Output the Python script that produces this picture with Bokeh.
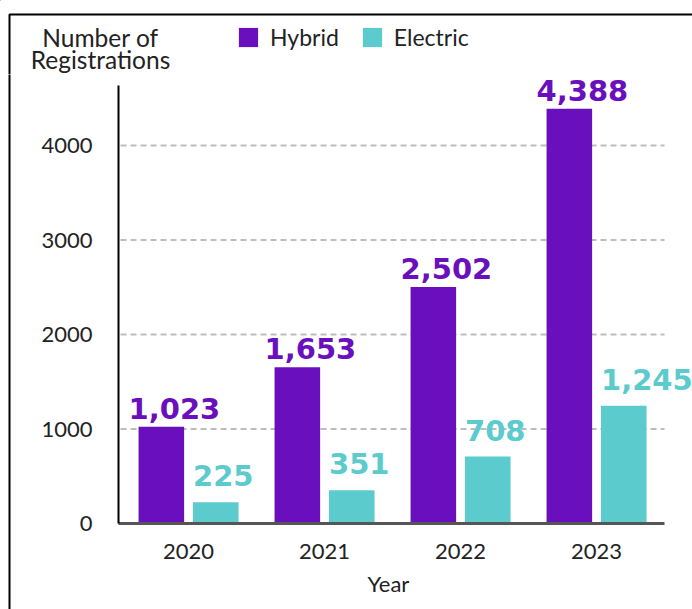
from bokeh.plotting import figure
from bokeh.layouts import column, row
from bokeh.models import (ColumnDataSource, Range1d, FixedTicker, LabelSet, Plot,
                          Legend, LegendItem, Label, BoxAnnotation, Title)
from bokeh.transform import dodge
from bokeh.core.properties import value
from bokeh.embed import file_html
from bokeh.resources import INLINE

# ---- data ----
years = ["2020", "2021", "2022", "2023"]
hybrid = [1023, 1653, 2502, 4388]
electric = [225, 351, 708, 1245]
series_names = ["Hybrid", "Electric"]
y_ticks = [0, 1000, 2000, 3000, 4000]
y_title = "Number of\nRegistrations"
x_title = "Year"

colors = ["#6A0FBD", "#5BCBCE"]
FONT = "Lato"
VFONT = "DejaVu Sans"
TXT = "#222222"

xc = [i + 0.5 for i in range(len(years))]
source = ColumnDataSource(dict(
    xc=xc, year=years, hybrid=hybrid, electric=electric,
    hybrid_label=[f"{v:,}" for v in hybrid],
    electric_label=[f"{v:,}" for v in electric],
))
grid_src = ColumnDataSource(dict(
    y=y_ticks[1:], x0=[0] * (len(y_ticks) - 1), x1=[len(years)] * (len(y_ticks) - 1)))

TOTAL_W, TOTAL_H = 692, 609
STRIP_W = 11
W = TOTAL_W - STRIP_W
PX = 136.0          # pixels per category
BW = 0.335          # bar width
OFF = 0.2           # dodge
HEAD_H = 74
MAIN_H = TOTAL_H - HEAD_H
BOTTOM = 86
FRAME_H = MAIN_H - BOTTOM
Y_END = FRAME_H / 94.5 * 1000
CAN_UNALIGN = "frame_align" in Plot.properties()


def frame_line(fig, top):
    fig.add_layout(BoxAnnotation(left=9, right=5000, top=top, bottom=-1000,
                                 left_units="screen", right_units="screen",
                                 top_units="screen", bottom_units="screen",
                                 fill_alpha=0, line_color="black", line_alpha=1.0,
                                 line_width=2))


def blank(width, height, xr=(0, 1), yr=(0, 1)):
    f = figure(width=width, height=height, x_range=Range1d(*xr), y_range=Range1d(*yr),
               x_axis_type=None, y_axis_type=None, output_backend="svg",
               toolbar_location=None, min_border=0)
    f.outline_line_color = None
    if CAN_UNALIGN:
        f.frame_align = False
    return f


# ---------------- main chart ----------------
main = figure(width=W, height=MAIN_H,
              x_range=Range1d(-0.015, -0.015 + (W - 107) / PX), y_range=Range1d(0, Y_END),
              output_backend="svg", toolbar_location=None,
              min_border_left=107, min_border_right=0, min_border_top=0,
              min_border_bottom=BOTTOM)
main.outline_line_color = None
main.xgrid.visible = False
main.ygrid.visible = False

main.segment(x0="x0", x1="x1", y0="y", y1="y", source=grid_src,
             line_color="#BDBDBD", line_width=2, line_dash="6 4")

main.vbar(x=dodge("xc", -OFF), top="hybrid", width=BW, source=source,
          fill_color=colors[0], line_color=None)
main.vbar(x=dodge("xc", OFF), top="electric", width=BW, source=source,
          fill_color=colors[1], line_color=None)

main.add_layout(LabelSet(x=dodge("xc", -OFF - BW / 2), y="hybrid", text="hybrid_label",
                         source=source, x_offset=-10, y_offset=8, text_align="left",
                         text_baseline="alphabetic", text_font=value(VFONT),
                         text_font_style="bold", text_font_size="29px", text_color=colors[0]))
main.add_layout(LabelSet(x=dodge("xc", OFF - BW / 2), y="electric", text="electric_label",
                         source=source, x_offset=0, y_offset=16, text_align="left",
                         text_baseline="alphabetic", text_font=value(VFONT),
                         text_font_style="bold", text_font_size="29px", text_color=colors[1]))

main.yaxis.ticker = FixedTicker(ticks=y_ticks)
main.yaxis.bounds = (0, 4635)
main.yaxis.axis_line_color = "black"
main.yaxis.axis_line_width = 2
main.yaxis.major_tick_line_color = None
main.yaxis.minor_tick_line_color = None
main.yaxis.major_tick_out = 0
main.yaxis.major_tick_in = 0
main.yaxis.major_label_standoff = 26
main.yaxis.major_label_text_font = FONT
main.yaxis.major_label_text_font_size = "22px"
main.yaxis.major_label_text_color = TXT

main.xaxis.ticker = FixedTicker(ticks=xc)
main.xaxis.major_label_overrides = {x: y for x, y in zip(xc, years)}
main.xaxis.bounds = (-0.015, len(years))
main.xaxis.axis_line_color = "#555555"
main.xaxis.axis_line_width = 3
main.xaxis.major_tick_line_color = None
main.xaxis.minor_tick_line_color = None
main.xaxis.major_tick_out = 0
main.xaxis.major_tick_in = 0
main.xaxis.major_label_standoff = 20
main.xaxis.major_label_text_font = FONT
main.xaxis.major_label_text_font_size = "22px"
main.xaxis.major_label_text_color = TXT

# x-axis title, centred under the category axis (not the whole frame)
main.add_layout(Title(text=x_title, align="left", offset=249, vertical_align="bottom",
                      standoff=12, text_font=FONT, text_font_size="22px",
                      text_font_style="normal", text_color=TXT), "below")

# ---------------- header (y title + legend) ----------------
header = blank(TOTAL_W, HEAD_H, xr=(100, 101), yr=(-2000, -1000))
# legend-only renderers (placed far outside the header's ranges)
h1 = header.vbar(x="xc", top="hybrid", width=BW, source=source,
                 fill_color=colors[0], line_color=None)
h2 = header.vbar(x="xc", top="electric", width=BW, source=source,
                 fill_color=colors[1], line_color=None)
legend = Legend(items=[LegendItem(label=series_names[0], renderers=[h1]),
                       LegendItem(label=series_names[1], renderers=[h2])],
                location=(236, 23), orientation="horizontal",
                glyph_width=24, glyph_height=24, label_standoff=10, spacing=21,
                label_text_font=FONT, label_text_font_size="23px", label_text_color=TXT,
                padding=0, margin=0, border_line_color=None, background_fill_alpha=0)
header.add_layout(legend, "center")
header.add_layout(Label(x=100, y=HEAD_H - 22, x_units="screen", y_units="screen",
                        text=y_title, text_align="center", text_baseline="top", text_font=FONT,
                        text_font_size="24.5px", text_color=TXT, text_line_height=0.77))
frame_line(header, HEAD_H - 14)

# ---------------- left frame strip ----------------
strip = blank(STRIP_W, MAIN_H)
frame_line(strip, 5000)

layout = column(header, row(strip, main))
open("out.html", "w").write(file_html(layout, INLINE))
